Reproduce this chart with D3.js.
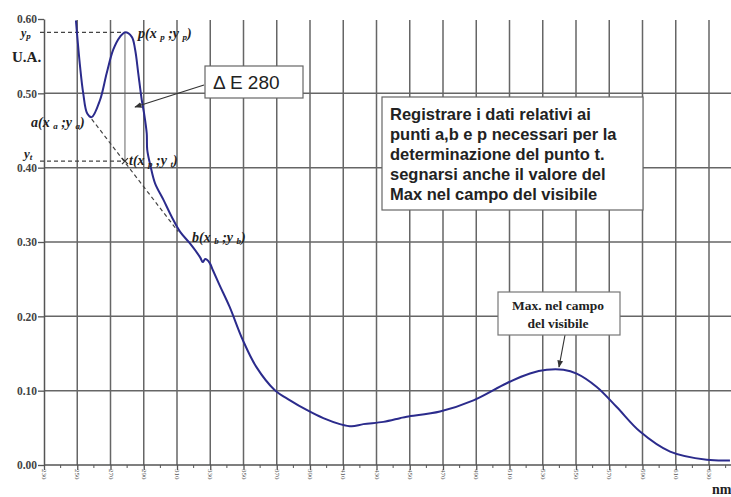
<!DOCTYPE html>
<html>
<head>
<meta charset="utf-8">
<script src="https://cdn.jsdelivr.net/npm/d3@7"></script>
<style>
  body { margin: 0; background: #fff; }
  svg { display: block; }
</style>
</head>
<body>
<div id="main"></div>
<script>
// spectrum: wavelength (nm) and absorbance (U.A.)
const wavelength = [249.2, 251.7, 253.6, 256.0, 258.7, 263.7, 267.7, 271.7, 275.7, 278.7,
  282.8, 284.8, 286.7, 288.8, 290.2, 291.8, 292.1, 294.2, 296.8, 301.8, 306.8, 311.8,
  317.8, 324.0, 325.5, 327.0, 329.6, 331.6, 335.6, 341.6, 349.6, 357.7, 368.7, 378.0,
  388.0, 398.0, 408.0, 415.1, 422.1, 434.1, 444.1, 448.2, 468.2, 488.3, 508.3, 522.3,
  532.4, 542.4, 550.4, 562.5, 574.5, 588.5, 606.6, 628.6, 642.6]
const absorbance = [0.598, 0.536, 0.500, 0.473, 0.468, 0.491, 0.527, 0.559, 0.576, 0.582,
  0.576, 0.559, 0.527, 0.491, 0.473, 0.446, 0.424, 0.401, 0.379, 0.357, 0.334, 0.314,
  0.298, 0.279, 0.273, 0.277, 0.272, 0.262, 0.242, 0.213, 0.168, 0.132, 0.101, 0.087,
  0.074, 0.063, 0.055, 0.052, 0.055, 0.058, 0.063, 0.065, 0.072, 0.087, 0.110, 0.123,
  0.128, 0.128, 0.123, 0.105, 0.078, 0.045, 0.018, 0.007, 0.006]

const xTicks = d3.range(230, 631, 20)
const xMinor = d3.range(240, 651, 20)
const yTicks = [0, 0.1, 0.2, 0.3, 0.4, 0.5, 0.6]

// construction points
const pointP = [278.7, 0.582]
const pointA = [258.7, 0.468]
const pointB = [310.7, 0.314]

const noteLines = ["Registrare i dati relativi ai", "punti a,b e p necessari per la",
  "determinazione del punto t.", "segnarsi anche il valore del", "Max nel campo del visibile"]
const maxLines = ["Max. nel campo", "del visibile"]

function graphData() {
    let W = 731, H = 497
    let margin = {top: 19, left: 44, bottom: 32}
    let svg = d3.select("#main").append("svg")
        .attr("width", W)
        .attr("height", H)

    let scX = d3.scaleLinear().domain([230, 650]).range([margin.left, margin.left + 21 * 33.25])
    let scY = d3.scaleLinear().domain([0, 0.6]).range([H - margin.bottom, margin.top])

    let serif = "'Liberation Serif', 'Times New Roman', serif"
    let sans = "'Liberation Sans', Arial, sans-serif"
    let gridCol = "#666"

    // grid
    svg.append("g").selectAll("line").data(xTicks.slice(1)).enter()
        .append("line")
        .attr("x1", d=>scX(d)).attr("x2", d=>scX(d))
        .attr("y1", scY(0.6) + 1).attr("y2", scY(0))
        .attr("stroke", gridCol).attr("stroke-width", 1.5)
    svg.append("g").selectAll("line").data(yTicks.slice(1, 6)).enter()
        .append("line")
        .attr("x1", scX(230)).attr("x2", W)
        .attr("y1", d=>scY(d)).attr("y2", d=>scY(d))
        .attr("stroke", gridCol).attr("stroke-width", 1.5)

    // y axis
    let yAxis = svg.append("g")
        .attr("transform", `translate(${scX(230)} 0)`)
        .call(d3.axisLeft(scY).tickValues(yTicks).tickFormat(d3.format(".2f")).tickSize(6).tickSizeOuter(0))
    yAxis.select(".domain").attr("stroke", "#555").attr("stroke-width", 1.5)
    yAxis.selectAll(".tick line").attr("stroke", "#555").attr("stroke-width", 1.3)
    yAxis.selectAll("text")
        .attr("font-family", serif).attr("font-weight", "bold")
        .attr("font-size", 11.5).attr("fill", "#444").attr("x", -7)

    // x axis
    let xAxis = svg.append("g")
        .attr("transform", `translate(0 ${scY(0)})`)
        .call(d3.axisBottom(scX).tickValues(xTicks).tickSize(5).tickSizeOuter(0))
    xAxis.select(".domain").attr("stroke", "#555").attr("stroke-width", 1.5)
        .attr("d", `M${scX(230)},0H${W}`)
    xAxis.selectAll(".tick line").attr("stroke", "#555").attr("stroke-width", 1.3)
    xAxis.selectAll("text")
        .attr("font-family", serif).attr("font-size", 7).attr("fill", "#555")
        .attr("text-anchor", "start").attr("dy", "0.35em")
        .attr("transform", "rotate(90) translate(-2 0)")
        .attr("x", 6).attr("y", 0)
    xAxis.append("g").selectAll("line").data(xMinor).enter()
        .append("line")
        .attr("x1", d=>scX(d)).attr("x2", d=>scX(d))
        .attr("y1", 0).attr("y2", 3)
        .attr("stroke", "#555").attr("stroke-width", 1)

    svg.append("text").attr("x", 712).attr("y", 494)
        .attr("font-family", serif).attr("font-weight", "bold").attr("font-size", 14)
        .attr("fill", "#222").text("nm")

    // dashed construction lines
    let pA = [scX(pointA[0]), scY(pointA[1])]
    let pB = [scX(pointB[0]), scY(pointB[1])]
    let pP = [scX(pointP[0]), scY(pointP[1])]
    let tVal = pointA[1] + (pointB[1] - pointA[1]) * (pointP[0] - pointA[0]) / (pointB[0] - pointA[0])
    let pT = [pP[0], scY(tVal)]

    let dash = svg.append("g").attr("stroke", "#444").attr("stroke-width", 1.2)
        .attr("stroke-dasharray", "4 3").attr("fill", "none")
    dash.append("line").attr("x1", 40).attr("y1", pP[1]).attr("x2", pP[0]).attr("y2", pP[1])
    dash.append("line").attr("x1", 40).attr("y1", pT[1]).attr("x2", pT[0]).attr("y2", pT[1])
    dash.append("line").attr("x1", pA[0]).attr("y1", pA[1] + 2).attr("x2", pB[0]).attr("y2", pB[1])
    svg.append("line").attr("x1", pP[0]).attr("y1", pP[1]).attr("x2", pT[0]).attr("y2", pT[1])
        .attr("stroke", "#666").attr("stroke-width", 1)
    svg.append("path").attr("d", `M${pT[0]-3},${pT[1]-3}L${pT[0]+3},${pT[1]+3}M${pT[0]+3},${pT[1]-3}L${pT[0]-3},${pT[1]+3}`)
        .attr("stroke", "#333").attr("stroke-width", 1.2)

    // spectrum
    let makeLine = d3.line()
        .x((d, i)=>scX(wavelength[i]))
        .y(d=>scY(d))
        .curve(d3.curveCatmullRom)
    svg.append("path")
        .attr("d", makeLine(absorbance))
        .attr("fill", "none")
        .attr("stroke", "#2b2b8c")
        .attr("stroke-width", 2)

    // point labels
    function label(x, y, main, sub1, sub2) {
        let t = svg.append("text").attr("x", x).attr("y", y)
            .attr("font-family", serif).attr("font-style", "italic").attr("font-weight", "bold")
            .attr("font-size", 14).attr("fill", "#222")
        t.append("tspan").text(main + "(x ")
        t.append("tspan").attr("font-size", 9).attr("dy", 2).text(sub1)
        t.append("tspan").attr("dy", -2).text(" ;y ")
        t.append("tspan").attr("font-size", 9).attr("dy", 2).text(sub2)
        t.append("tspan").attr("dy", -2).text(")")
    }
    label(138, 38, "p", "p", "p")
    label(31, 127, "a", "a", "a")
    label(129, 165, "t", "p", "t")
    label(192, 242, "b", "b", "b")

    let yl = svg.append("text").attr("font-family", serif).attr("font-weight", "bold")
        .attr("font-style", "italic").attr("font-size", 12).attr("fill", "#222")
    yl.append("tspan").attr("x", 21).attr("y", 37).text("y")
    yl.append("tspan").attr("font-size", 9).attr("dy", 2).text("p")
    let yt = svg.append("text").attr("font-family", serif).attr("font-weight", "bold")
        .attr("font-style", "italic").attr("font-size", 13).attr("fill", "#222")
    yt.append("tspan").attr("x", 24).attr("y", 158).text("y")
    yt.append("tspan").attr("font-size", 9).attr("dy", 2).text("t")
    svg.append("text").attr("x", 12).attr("y", 62)
        .attr("font-family", serif).attr("font-weight", "bold").attr("font-size", 15)
        .attr("fill", "#222").text("U.A.")

    // arrow marker
    svg.append("defs").append("marker")
        .attr("id", "arr").attr("viewBox", "0 0 10 10").attr("refX", 9).attr("refY", 5)
        .attr("markerWidth", 6).attr("markerHeight", 6).attr("orient", "auto")
        .append("path").attr("d", "M0,1L10,5L0,9Z").attr("fill", "#333")

    // ΔE 280 box
    svg.append("line").attr("x1", 204).attr("y1", 85).attr("x2", 135).attr("y2", 107)
        .attr("stroke", "#333").attr("stroke-width", 1.2).attr("marker-end", "url(#arr)")
    svg.append("rect").attr("x", 205).attr("y", 66).attr("width", 98).attr("height", 32)
        .attr("fill", "#fff").attr("stroke", "#666").attr("stroke-width", 1.2)
    svg.append("text").attr("x", 213).attr("y", 89)
        .attr("font-family", sans).attr("font-size", 19)
        .attr("fill", "#222").text("Δ E 280")

    // note box
    svg.append("rect").attr("x", 382).attr("y", 97).attr("width", 261).attr("height", 113)
        .attr("fill", "#fff").attr("stroke", "#666").attr("stroke-width", 1.2)
    svg.append("g").selectAll("text").data(noteLines).enter()
        .append("text")
        .attr("x", 390).attr("y", (d, i)=>120 + i * 20)
        .attr("font-family", sans).attr("font-weight", "bold")
        .attr("font-size", 16.5).attr("fill", "#222")
        .text(d=>d)

    // max box
    svg.append("line").attr("x1", 565).attr("y1", 335).attr("x2", 559).attr("y2", 367)
        .attr("stroke", "#333").attr("stroke-width", 1.2).attr("marker-end", "url(#arr)")
    svg.append("rect").attr("x", 498).attr("y", 292).attr("width", 122).attr("height", 43)
        .attr("fill", "#fff").attr("stroke", "#777").attr("stroke-width", 1.2)
    svg.append("g").selectAll("text").data(maxLines).enter()
        .append("text")
        .attr("x", 558).attr("y", (d, i)=>310 + i * 18)
        .attr("text-anchor", "middle")
        .attr("font-family", serif).attr("font-weight", "bold")
        .attr("font-size", 13.5).attr("fill", "#222")
        .text(d=>d)
}
graphData()
</script>
</body>
</html>
